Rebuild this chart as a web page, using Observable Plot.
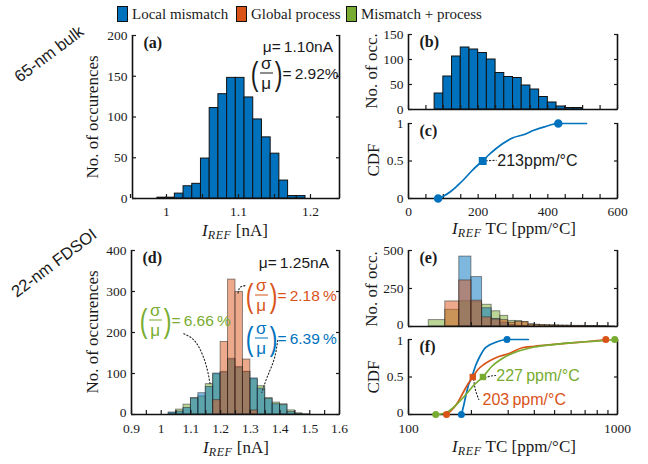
<!DOCTYPE html>
<html><head><meta charset="utf-8">
<script src="https://cdn.jsdelivr.net/npm/d3@7"></script>
<script src="https://cdn.jsdelivr.net/npm/@observablehq/plot@0.6"></script>
<style>
body{margin:0;background:#fff;}
#root{position:relative;width:648px;height:464px;overflow:hidden;font-family:"Liberation Serif",serif;color:#1a1a1a;}
.t{position:absolute;white-space:nowrap;transform:translate(-50%,-50%);font-size:17px;line-height:1;}
.rot{transform:translate(-50%,-50%) rotate(-90deg);}
.t sub{font-size:12px;vertical-align:-3px;letter-spacing:0.6px;}
.side{position:absolute;white-space:nowrap;font-family:"Liberation Sans",sans-serif;font-size:16.5px;transform:translate(-50%,-50%) rotate(-37deg);}
.leg{position:absolute;top:5px;display:flex;align-items:center;font-size:15px;white-space:nowrap;line-height:1;}
.sw{display:inline-block;width:9px;height:14px;border:1.4px solid #111;margin-right:4px;}
.ann{position:absolute;white-space:nowrap;font-family:"Liberation Sans",sans-serif;font-size:15.5px;transform:translateY(-50%);display:flex;align-items:center;line-height:1;}
.par{font-size:33px;font-weight:300;transform:scaleX(0.7);display:inline-block;margin:0 -1px;}
.fr{display:inline-flex;flex-direction:column;align-items:center;font-size:17px;margin:0 1px;}
.fr .n{border-bottom:1.4px solid currentColor;padding:0 1px 1px;}
.fr .d{padding-top:1px;}
</style></head><body><div id="root"></div>
<script>
// ---------- data ----------
const BLUE = "#0072BD", ORANGE = "#D95319", GREEN = "#77AC30";
const legendNames = ["Local mismatch", "Global process", "Mismatch + process"];

// (a) 65-nm bulk, IREF histogram [nA]
const aBinLo = [0.9874,0.9995,1.0116,1.0237,1.0358,1.0479,1.0600,1.0721,1.0842,1.0963,1.1084,1.1205,1.1326,1.1447,1.1568,1.1689,1.1810];
const aBinWidth = 0.0121;
const aCounts = [1,1,6,15,18,49,111,128,148,148,124,97,75,55,22,3,3];
const aXDomain = [0.9528, 1.2403];
const aXTicks = [0.95,1,1.05,1.1,1.15,1.2];
const aXLabels = [1,1.1,1.2];
const aYTicks = [0,50,100,150,200];

// (b) 65-nm TC histogram [ppm/°C]
const bBinLo = [75,100,125,150,175,200,225,250,275,300,325,350,375,400,425,450,475];
const bBinWidth = 25;
const bCounts = [32,66,106,124,120,113,100,73,65,63,48,40,25,14,6,3,3];
const bcXTicks = [0,50,100,150,200,250,300,350,400,450,500,550,600];
const bcXLabels = [0,200,400,600];
const bYTicks = [0,50,100,150];

// (c) 65-nm TC CDF
const cTC  = [85,100,120,140,160,180,200,213,230,250,270,300,330,360,390,430,470,511];
const cCDF = [0,0.03,0.09,0.17,0.26,0.36,0.45,0.5,0.58,0.66,0.73,0.81,0.85,0.91,0.955,1,1,1];
const cMarks = {min: 85, median: 213, max: 430};
const cLeader = {x: [213,232,252], y: [0.5,0.505,0.51]};

// (d) 22-nm FDSOI IREF histograms [nA]
const dBinLo = [1.025,1.05,1.075,1.1,1.125,1.15,1.175,1.2,1.225,1.25,1.275,1.3,1.325,1.35,1.375,1.4,1.425,1.45,1.475];
const dBinWidth = 0.025;
const dLocal  = [5,7,16,39,52,67,100,104,136,116,104,88,63,38,25,23,6,1,0];
const dGlobal = [0,0,0,0,0,0,35,177,329,299,134,10,0,0,0,0,0,0,0];
const dBoth   = [3,12,24,40,44,74,98,102,134,114,104,86,69,40,29,25,10,3,1];
const dXTicks = [0.9,0.95,1,1.05,1.1,1.15,1.2,1.25,1.3,1.35,1.4,1.45,1.5,1.55,1.6];
const dXLabels = [0.9,1,1.1,1.2,1.3,1.4,1.5,1.6];
const dYTicks = [0,100,200,300,400];
const dLeadOrange = {x:[1.2585,1.262,1.27,1.286], y:[296,306,312,315]};
const dLeadGreen  = {x:[1.076,1.105,1.13,1.152,1.165], y:[197,185,160,118,72]};
const dLeadBlue   = {x:[1.392,1.38,1.357,1.339], y:[181,135,92,54]};

// (e) 22-nm TC histograms [ppm/°C]
const eBinLo = [125,150,175,200,225,250,275,300,325,350,375,400,425,450,475,500,525,550,575,600,625,650,675,700,725,750,775,800,825,850,875,900,925,950,975];
const eBinWidth = 25;
const eLocal  = [0,0,460,325,120,50,25,10,5,3,0,0,0,0,0,0,0,0,0,0,0,0,0,0,0,0,0,0,0,0,0,0,0,0,0];
const eGlobal = [0,165,303,170,60,46,42,25,30,28,12,10,8,8,6,6,5,5,5,4,4,4,4,3,3,3,3,3,2,2,1,0,0,0,0];
const eBoth   = [42,110,166,160,143,100,70,37,36,30,15,12,10,8,8,7,6,5,5,4,4,4,4,3,3,3,3,3,2,2,2,2,1,1,0];
const efXTicks = [100,200,300,400,500,600,700,800,900,1000];
const efXLabels = [100,1000];
const eYTicks = [0,250,500];

// (f) 22-nm TC CDFs
const fLocalTC  = [179,183,188,194,201,210,220,230,245,260,280,296,374];
const fLocalCDF = [0,0.1,0.25,0.4,0.5,0.66,0.78,0.87,0.93,0.96,0.99,1,1];
const fGlobalTC  = [152,160,170,180,190,203,215,230,250,275,300,350,400,500,600,700,800,879];
const fGlobalCDF = [0,0.05,0.14,0.26,0.38,0.5,0.6,0.67,0.73,0.78,0.81,0.89,0.91,0.935,0.955,0.97,0.985,1];
const fBothTC  = [135,145,155,165,175,190,205,227,250,275,300,350,400,500,600,700,800,900,970];
const fBothCDF = [0,0.01,0.04,0.1,0.17,0.28,0.39,0.5,0.64,0.73,0.79,0.86,0.9,0.935,0.955,0.97,0.98,0.99,1];
const fLocalMarks = {min:179, max:296};
const fGlobalMarks = {min:152, median:203, max:879};
const fBothMarks = {min:135, median:227, max:970};
const fLeadOrange = {x:[205,209,217], y:[0.47,0.33,0.2]};
const fLeadGreen  = {x:[232,245,261], y:[0.49,0.51,0.52]};
const cdfTicks = [0,0.5,1];

// ---------- helpers ----------
const root = document.getElementById("root");
const fmtNum = d => String(d);
const labelsOnly = list => d => list.some(v => Math.abs(v - d) < 1e-9) ? fmtNum(d) : "";
const zip = (xs, ys) => xs.map((x, i) => ({x, y: ys[i]}));
const bins = (lo, w, counts) => lo.map((l, i) => ({lo: l, hi: l + w, n: counts[i]})).filter(d => d.n > 0);

function frameMarks(xDom, yDom, xTicks, xFmt, yTicks, yFmt) {
  return [
    Plot.ruleY([yDom[0]], {stroke: "#111", strokeWidth: 1.6}),
    Plot.ruleX([xDom[0]], {stroke: "#111", strokeWidth: 1.6}),
    Plot.ruleX([xDom[1]], {stroke: "#111", strokeWidth: 1.6}),
    Plot.axisX({ticks: xTicks, tickSize: -4, tickPadding: 12, tickFormat: xFmt, label: null, strokeWidth: 1.2}),
    Plot.axisY({ticks: yTicks, tickSize: -4, tickPadding: 9, tickFormat: yFmt, label: null, strokeWidth: 1.2}),
    Plot.axisY({anchor: "right", ticks: yTicks, tickSize: -4, tickFormat: () => "", label: null, strokeWidth: 1.2})
  ];
}
// same frame, but the left tick labels are drawn as text so the lowest / highest can be nudged apart
function frameMarksNudged(xDom, yDom, xTicks, xFmt, yTicks, yFmt, dyLow, dyHigh) {
  const low = yTicks.slice(0, 1), mid = yTicks.slice(1, -1), high = yTicks.slice(-1);
  const txt = (arr, dy) => Plot.text(arr, {y: d => d, text: yFmt, frameAnchor: "left", dx: -5, dy, textAnchor: "end"});
  return [
    Plot.ruleY([yDom[0]], {stroke: "#111", strokeWidth: 1.6}),
    Plot.ruleX([xDom[0]], {stroke: "#111", strokeWidth: 1.6}),
    Plot.ruleX([xDom[1]], {stroke: "#111", strokeWidth: 1.6}),
    Plot.axisX({ticks: xTicks, tickSize: -4, tickPadding: 13, tickFormat: xFmt, label: null, strokeWidth: 1.2}),
    Plot.axisY({ticks: yTicks, tickSize: -4, tickFormat: () => "", label: null, strokeWidth: 1.2}),
    Plot.axisY({anchor: "right", ticks: yTicks, tickSize: -4, tickFormat: () => "", label: null, strokeWidth: 1.2}),
    txt(low, dyLow), txt(mid, 0), txt(high, dyHigh)
  ];
}
function panelLabel(s) {
  return Plot.text([s], {frameAnchor: "top-left", text: d => d, dx: 11, dy: 1, lineAnchor: "top", textAnchor: "start", fontWeight: "bold", fontSize: 16});
}
function addPanel({fx, fy, fw, fh, x, y, marks}) {
  const mL = 40, mR = 14, mT = 12, mB = 30;
  const svg = Plot.plot({
    width: fw + mL + mR, height: fh + mT + mB,
    marginLeft: mL, marginRight: mR, marginTop: mT, marginBottom: mB,
    x, y, marks,
    style: {fontFamily: '"Liberation Serif", serif', fontSize: "13.5px", color: "#1a1a1a", background: "transparent", overflow: "visible"}
  });
  svg.style.position = "absolute";
  svg.style.left = (fx - mL) + "px";
  svg.style.top = (fy - mT) + "px";
  root.appendChild(svg);
}
function html(cls, left, top, inner, extra = "") {
  const el = document.createElement("div");
  el.className = cls;
  el.style.cssText = `left:${left}px;top:${top}px;${extra}`;
  el.innerHTML = inner;
  root.appendChild(el);
  return el;
}
function fracAnn(left, top, color, value) {
  return html("ann", left, top,
    `<span class="par">(</span><span class="fr"><span class="n">σ</span><span class="d">μ</span></span><span class="par">)</span><span>=&thinsp;${value}</span>`,
    `color:${color}`);
}
const histStyle = (color) => ({x1: "lo", x2: "hi", y: "n", fill: color, fillOpacity: 0.5, stroke: "#222", strokeOpacity: 0.55, strokeWidth: 0.9});
const dash = {stroke: "#222", strokeWidth: 1.1, strokeDasharray: "1.2,2.2", curve: "natural"};
const ppmFont = {fontFamily: '"Liberation Sans", sans-serif', fontSize: 16, textAnchor: "start"};

// ---------- (a) ----------
addPanel({fx: 132, fy: 35, fw: 207, fh: 163,
  x: {domain: aXDomain}, y: {domain: [0, 200]},
  marks: [
    Plot.rectY(bins(aBinLo, aBinWidth, aCounts), {x1: "lo", x2: "hi", y: "n", fill: BLUE, stroke: "#111", strokeWidth: 1}),
    ...frameMarks(aXDomain, [0, 200], aXTicks, labelsOnly(aXLabels), aYTicks, fmtNum),
    panelLabel("(a)")
  ]});

// ---------- (b) ----------
addPanel({fx: 408, fy: 34, fw: 209, fh: 75,
  x: {domain: [0, 600]}, y: {domain: [0, 150]},
  marks: [
    Plot.rectY(bins(bBinLo, bBinWidth, bCounts), {x1: "lo", x2: "hi", y: "n", fill: BLUE, stroke: "#111", strokeWidth: 1}),
    ...frameMarks([0, 600], [0, 150], bcXTicks, () => "", bYTicks, fmtNum),
    panelLabel("(b)")
  ]});

// ---------- (c) ----------
addPanel({fx: 408, fy: 123, fw: 209, fh: 75,
  x: {domain: [0, 600]}, y: {domain: [0, 1]},
  marks: [
    ...frameMarks([0, 600], [0, 1], bcXTicks, labelsOnly(bcXLabels), cdfTicks, fmtNum),
    Plot.line(zip(cLeader.x, cLeader.y), {x: "x", y: "y", ...dash, curve: "linear"}),
    Plot.line(zip(cTC, cCDF), {x: "x", y: "y", stroke: BLUE, strokeWidth: 1.7, curve: "monotone-x"}),
    Plot.dot([cMarks.min, cMarks.max], {x: d => d, y: (d, i) => i === 0 ? 0 : 1, r: 3.5, fill: BLUE, stroke: BLUE}),
    Plot.dot([cMarks.median], {x: d => d, y: () => 0.5, symbol: "square", r: 3.6, fill: BLUE, stroke: BLUE}),
    Plot.text(["213ppm/°C"], {x: () => 255, y: () => 0.505, text: d => d, ...ppmFont, fill: "#1a1a1a"}),
    panelLabel("(c)")
  ]});

// ---------- (d) ----------
addPanel({fx: 131, fy: 250, fw: 208, fh: 164,
  x: {domain: [0.9, 1.6]}, y: {domain: [0, 400]},
  marks: [
    Plot.rectY(bins(dBinLo, dBinWidth, dBoth), histStyle(GREEN)),
    Plot.rectY(bins(dBinLo, dBinWidth, dLocal), histStyle(BLUE)),
    Plot.rectY(bins(dBinLo, dBinWidth, dGlobal), histStyle(ORANGE)),
    ...frameMarksNudged([0.9, 1.6], [0, 400], dXTicks, labelsOnly(dXLabels), dYTicks, fmtNum, -1.5, 0),
    Plot.line(zip(dLeadOrange.x, dLeadOrange.y), {x: "x", y: "y", ...dash}),
    Plot.line(zip(dLeadGreen.x, dLeadGreen.y), {x: "x", y: "y", ...dash}),
    Plot.line(zip(dLeadBlue.x, dLeadBlue.y), {x: "x", y: "y", ...dash}),
    panelLabel("(d)")
  ]});

// ---------- (e) ----------
addPanel({fx: 408, fy: 250, fw: 209, fh: 76,
  x: {type: "log", domain: [100, 1000]}, y: {domain: [0, 500]},
  marks: [
    Plot.rectY(bins(eBinLo, eBinWidth, eBoth), histStyle(GREEN)),
    Plot.rectY(bins(eBinLo, eBinWidth, eLocal), histStyle(BLUE)),
    Plot.rectY(bins(eBinLo, eBinWidth, eGlobal), histStyle(ORANGE)),
    ...frameMarksNudged([100, 1000], [0, 500], efXTicks, () => "", eYTicks, fmtNum, -1.5, 0),
    panelLabel("(e)")
  ]});

// ---------- (f) ----------
addPanel({fx: 408, fy: 339, fw: 209, fh: 75,
  x: {type: "log", domain: [100, 1000]}, y: {domain: [0, 1]},
  marks: [
    ...frameMarksNudged([100, 1000], [0, 1], efXTicks, labelsOnly(efXLabels), cdfTicks, fmtNum, -2, 1.5),
    Plot.line(zip(fLeadOrange.x, fLeadOrange.y), {x: "x", y: "y", ...dash}),
    Plot.line(zip(fLeadGreen.x, fLeadGreen.y), {x: "x", y: "y", ...dash}),
    Plot.line(zip(fLocalTC, fLocalCDF), {x: "x", y: "y", stroke: BLUE, strokeWidth: 1.7, curve: "monotone-x"}),
    Plot.line(zip(fGlobalTC, fGlobalCDF), {x: "x", y: "y", stroke: ORANGE, strokeWidth: 1.7, curve: "monotone-x"}),
    Plot.line(zip(fBothTC, fBothCDF), {x: "x", y: "y", stroke: GREEN, strokeWidth: 1.7, curve: "monotone-x"}),
    Plot.dot([fLocalMarks.min, fLocalMarks.max], {x: d => d, y: (d, i) => i ? 1 : 0, r: 3.5, fill: BLUE}),
    Plot.dot([fGlobalMarks.min, fGlobalMarks.max], {x: d => d, y: (d, i) => i ? 1 : 0, r: 3.5, fill: ORANGE}),
    Plot.dot([fBothMarks.min, fBothMarks.max], {x: d => d, y: (d, i) => i ? 1 : 0, r: 3.5, fill: GREEN}),
    Plot.dot([fGlobalMarks.median], {x: d => d, y: () => 0.5, symbol: "square", r: 3.6, fill: ORANGE}),
    Plot.dot([fBothMarks.median], {x: d => d, y: () => 0.5, symbol: "square", r: 3.6, fill: GREEN}),
    Plot.text(["227\u2009ppm/°C"], {x: () => 263, y: () => 0.51, text: d => d, ...ppmFont, fill: GREEN}),
    Plot.text(["203\u2009ppm/°C"], {x: () => 226, y: () => 0.2, text: d => d, ...ppmFont, fill: ORANGE}),
    panelLabel("(f)")
  ]});

// ---------- axis titles ----------
const irefNA = `<i>I</i><sub><i>REF</i></sub> [nA]`;
const irefTC = `<i>I</i><sub><i>REF</i></sub> TC [ppm/°C]`;
html("t", 235, 231, irefNA);
html("t", 236, 448, irefNA);
html("t", 514, 229, irefTC);
html("t", 514, 447, irefTC);
html("t rot", 92, 117, "No. of occurences");
html("t rot", 92, 332, "No. of occurences");
html("t rot", 371, 71, "No. of occ.");
html("t rot", 371, 289, "No. of occ.");
html("t rot", 373, 160, "CDF");
html("t rot", 373, 377, "CDF");

// ---------- side labels ----------
html("side", 49, 54, "65-nm bulk");
html("side", 54, 263, "22-nm FDSOI");

// ---------- legend ----------
const legX = [117, 236, 346];
[BLUE, ORANGE, GREEN].forEach((c, i) => {
  html("leg", legX[i], 6, `<span class="sw" style="background:${c}"></span>${legendNames[i]}`);
});

// ---------- annotations ----------
html("ann", 0, 47, "μ=&thinsp;1.10nA", "left:auto;right:315px");
fracAnn(250, 73, "#1a1a1a", "2.92%");
html("ann", 0, 263, "μ=&thinsp;1.25nA", "left:auto;right:319px");
fracAnn(245, 295, ORANGE, "2.18&thinsp;%");
fracAnn(245, 338, BLUE, "6.39&thinsp;%");
fracAnn(139, 320, GREEN, "6.66&thinsp;%");
</script></body></html>
